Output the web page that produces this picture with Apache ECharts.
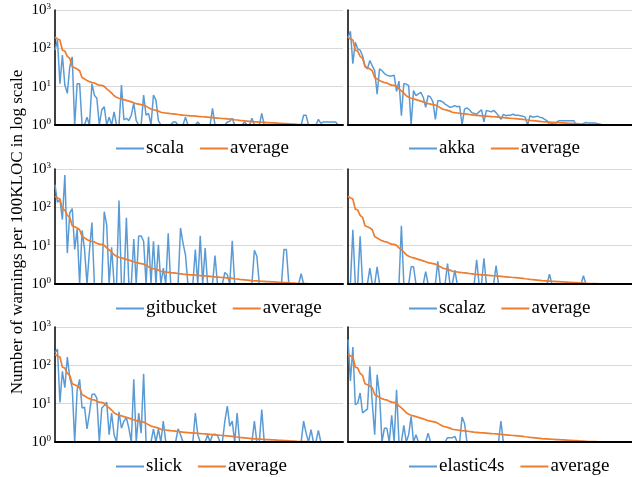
<!DOCTYPE html>
<html>
<head>
<meta charset="utf-8">
<script src="https://cdn.jsdelivr.net/npm/echarts@6/dist/echarts.min.js"></script>
<style>
  html, body { margin: 0; padding: 0; background: #fff; }
  #chart { width: 632px; height: 477px; }
</style>
</head>
<body>
<div id="chart"></div>
<script>
// warnings per 100KLOC, files ranked; 1 = no warning (sits on the axis)
const average = [195,175,165,90,85,62,55,33,31,29,
  26,17,16,14.5,13.5,12.8,12.5,11.5,11,10.8,
  10.2,8.8,7.8,6.8,5.8,5.3,5,4.8,4.6,4.4,
  4.2,4,3.8,3.6,3.5,3.4,3.3,3.1,2.8,2.6,
  2.5,2.4,2.3,2.15,2.1,2.06,2.02,1.98,1.95,1.92,
  1.88,1.84,1.8,1.78,1.76,1.74,1.72,1.7,1.68,1.66,
  1.64,1.62,1.6,1.58,1.56,1.54,1.52,1.5,1.48,1.46,
  1.44,1.42,1.4,1.37,1.35,1.32,1.3,1.28,1.26,1.24,
  1.22,1.21,1.2,1.19,1.18,1.17,1.16,1.15,1.14,1.13,
  1.12,1.11,1.1,1.09,1.08,1.07,1.06,1.05,1.04,1.03,
  1.03,1.02,1.02,1.01,1.01,1,0.9,0.9,0.9,0.9,
  0.9,0.9,0.9,0.9,0.9,0.9,0.9,0.9];

const scala = [90,165,12,67,11,6.7,33,60,1,12,
  12,1,1,1.6,1,12,6,5,1,2.5,
  3,1,1.6,1,2.2,1,1,11,1.35,1.5,
  1.3,1.8,3.7,1.3,1,1,6,1.8,2,1,
  6,4.5,1.3,1,1,1,1,1,1.2,1.2,
  1,1,1,1.6,1,1,1,1,1.2,1,
  1,1,1,1,2.7,1,1,1,1,1,
  1.2,1.25,1.5,1,1,1,1,1.2,1,1,
  1.5,1,1,1,2,1,1,1,1,1,
  1,1,1,1,1,1,1,1,1,1,
  1,1.8,1.8,1,1,1,1,1.4,1.1,1.2,
  1.2,1.2,1.2,1.2,1.2,1,1,1];

const akka = [190,280,40,143,96,90,64,35,29,48,
  35,26,6.4,29,26,22,20,19,19,20,
  7.5,14,1.75,12,11.7,10.6,1,7.9,5.8,6.5,
  7.1,5.3,2.9,5.8,5.3,4,1.4,4.3,4.3,4,
  3.5,3.2,2.9,3,3.2,3,3.1,1,2.6,2.8,
  2.5,2.1,2,1.9,2.2,2.5,1.2,2.4,2.3,2.2,
  2.4,2.1,1.75,1.4,1.9,1.75,1.8,1.8,1.9,1.8,
  1.8,1.75,1.7,1.6,1,1.75,1.6,1.65,1.7,1.6,
  1.55,1.4,1.3,1,1.15,1,1.2,1.3,1.3,1.3,
  1.3,1.3,1.3,1.3,1,1,1,1.1,1.17,1.12,
  1.12,1.12,1.12,1.08,1.05,1,1,1,1,1,
  1,1,1,1,1,1,1,1];

const gitbucket = [390,135,160,48,700,6.4,72,93,8,27,
  1,25,8,1,7.4,40,1,1,1,1,
  77,35,1,9,1,1,150,1,1,53,
  1,1,15,1,18,18,13,1,17,1,
  13,1,10.6,1,2.6,1,21,1,1,1,
  1,29,11.7,5.8,1,1,1,7.9,1,18,
  1,8.7,1,1,1,5.5,1,1,1,2,
  1.75,1,13.5,1,1,1,1,1,1,1,
  1,7.6,5.3,1,1,1,1,1,1,1,
  1,1,1,7.9,7.9,1,1,1,1,1,
  1.86,1,1,1,1,1,1,1,1,1,
  1,1,1,1,1,1,1,1];

const scalaz = [1,1,26,1,1,17.5,1,1,1,2.6,
  1,1,2.8,1,1,1,1,1,1,1,
  1,1,33,1,1,1,2.8,2.8,1,1,
  1,1,2.1,1,1,1,1,3.9,1,1,
  1,3.4,1,1,2.3,1,1,1,1,1,
  1,1,1,4.3,1,1,4.7,1,1,1,
  1,3,1,1,1,1,1,1,1,1,
  1,1,1,1,1,1,1,1,1,1,
  1,1,1,1.8,1,1,1,1,1,1,
  1,1,1,1,1,1,1,1.65,1,1,
  1,1,1,1,1,1,1,1,1,1,
  1,1,1,1,1,1,1,1];

const slick = [215,265,10.7,70,26,165,48,26,1,23,
  43,7.7,8.1,2.2,5.7,17.3,18,14,1,7.7,
  9,11,1.55,5.7,1.55,1,6.1,2.3,3.5,4.3,
  2.3,1,43,1,5.7,1.7,60,1,1,1,
  2.2,1,2.2,1,3.5,1,1,1,1,1,
  2.2,1.55,1,1,1,1,1,5.7,1.55,1,
  1,1,1.55,1,1.55,1.6,1.5,1,1,3.5,
  8.6,2.6,3.5,1,5.7,1,1,1,1,1,
  1,3.5,1,1,7,1,1,1,1,1,
  1,1,1,1,1,1,1,1,1,1,
  1,3.5,1.7,1,2.1,1,1,2,1,1,
  1,1,1,1,1,1,1,1];

const elastic4s = [470,39,300,9.4,10.4,19,5.7,6.5,7.2,95,
  10.4,1.55,57,17,1,2.3,2.3,1,5,1,
  23,1,1,2.7,1,1.55,4.7,1,1.55,1,
  1,1,1,1.7,1,1,1,1,1,1,
  1,1.3,1.3,1.3,1.4,1,1,4.5,3.1,1,
  1,1,1,1,1,1,1,1,1,1,
  1,1,1,3.5,1,1,1,1,1,1,
  1,1,1,1,1,1,1,1,1,1,
  1,1,1,1,1,1,1,1,1,1,
  1,1,1,1,1,1,1,1,1,1,
  1,1,1,1,1,1,1,1,1,1,
  1,1,1,1,1,1,1,1];

const projects = ['scala', 'akka', 'gitbucket', 'scalaz', 'slick', 'elastic4s'];
const projectValues = [scala, akka, gitbucket, scalaz, slick, elastic4s];
const ranks = average.map((_, i) => i + 1);

const serif = 'Liberation Serif';
const blue = '#5B9BD5';
const orange = '#ED7D31';

// [left, top, width] of each panel, and where its legend starts
const gridPos = [[55, 10, 288], [348, 10, 284], [55, 169, 288], [348, 169, 284], [55, 327, 288], [348, 327, 284]];
const legendPos = [[111, 134], [404, 134], [111, 294], [404, 294], [111, 452], [404, 452]];

const grid = [], xAxis = [], yAxis = [], series = [], legend = [];
projects.forEach((name, k) => {
  const [l, t, w] = gridPos[k];
  grid.push({ left: l, top: t, width: w, height: 115 });
  xAxis.push({
    type: 'category', gridIndex: k, data: ranks, boundaryGap: false, z: 5,
    axisLine: { lineStyle: { color: '#000', width: 2 } },
    axisTick: { show: false }, axisLabel: { show: false }
  });
  yAxis.push({
    type: 'log', gridIndex: k, logBase: 10, min: 1, max: 1000, splitNumber: 3,
    axisLine: { show: true, lineStyle: { color: '#000', width: 1.5 } },
    axisTick: { show: false },
    splitLine: { lineStyle: { color: '#d9d9d9', width: 1 } },
    axisLabel: {
      show: k % 2 === 0, margin: 4, fontFamily: serif,
      formatter: v => '{b|10}{s|' + Math.round(Math.log10(v)) + '}',
      rich: {
        b: { fontFamily: serif, fontSize: 15, color: '#000' },
        s: { fontFamily: serif, fontSize: 9, color: '#000', verticalAlign: 'top', padding: [0, 0, 6, 0] }
      }
    }
  });
  series.push({
    type: 'line', name: name, xAxisIndex: k, yAxisIndex: k, data: projectValues[k],
    symbol: 'none', lineStyle: { color: blue, width: 1.5 }, itemStyle: { color: blue }
  });
  series.push({
    type: 'line', name: 'average', xAxisIndex: k, yAxisIndex: k, data: average,
    symbol: 'none', lineStyle: { color: orange, width: 1.7 }, itemStyle: { color: orange }
  });
  legend.push({
    left: legendPos[k][0], top: legendPos[k][1], data: [name, 'average'],
    icon: 'rect', itemWidth: 28, itemHeight: 2, itemGap: 16,
    textStyle: { fontFamily: serif, fontSize: 19, color: '#000', padding: [0, 0, 0, -3] }
  });
});

const chart = echarts.init(document.getElementById('chart'));
chart.setOption({
  animation: false,
  textStyle: { fontFamily: serif },
  grid, xAxis, yAxis, series, legend,
  graphic: [{
    type: 'text', x: 18, y: 232, rotation: Math.PI / 2,
    style: {
      text: 'Number of warnings per 100KLOC in log scale',
      font: '17px "Liberation Serif", serif', fill: '#000',
      textAlign: 'center', textVerticalAlign: 'middle'
    }
  }]
});
</script>
</body>
</html>
